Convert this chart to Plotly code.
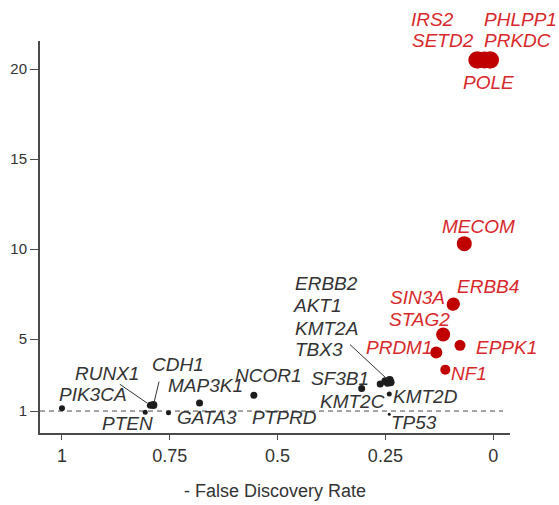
import plotly.graph_objects as go

# Genes above the significance cut-off (drawn in red)
sig_genes = ["IRS2", "SETD2", "PHLPP1", "PRKDC", "POLE", "MECOM", "ERBB4",
             "SIN3A", "STAG2", "EPPK1", "PRDM1", "NF1"]
sig_fdr = [0.038, 0.035, 0.008, 0.006, 0.020, 0.067, 0.092,
           0.094, 0.116, 0.077, 0.132, 0.111]
sig_score = [20.5, 20.5, 20.5, 20.5, 20.5, 10.3, 6.95,
             6.9, 5.25, 4.65, 4.25, 3.3]
sig_size = [17, 17, 17, 17, 17, 15, 13, 12, 14, 11, 12, 10]

# Remaining genes (drawn in black)
other_genes = ["PIK3CA", "PTEN", "RUNX1", "CDH1", "GATA3", "MAP3K1", "NCOR1",
               "PTPRD", "SF3B1", "KMT2C", "ERBB2", "AKT1", "KMT2A", "TBX3",
               "KMT2D", "TP53"]
other_fdr = [1.0, 0.807, 0.795, 0.788, 0.753, 0.681, 0.555,
             0.553, 0.305, 0.262, 0.250, 0.240, 0.245, 0.238,
             0.241, 0.241]
other_score = [1.15, 0.93, 1.32, 1.33, 0.90, 1.45, 1.88,
               1.86, 2.25, 2.50, 2.65, 2.72, 2.55, 2.60,
               1.95, 0.82]
other_size = [6, 5, 7, 8, 5, 7, 7, 4, 7, 7, 8, 8, 7, 8, 5, 3]

x_ticks = [1, 0.75, 0.5, 0.25, 0]
x_tick_text = ["1", "0.75", "0.5", "0.25", "0"]
y_ticks = [1, 5, 10, 15, 20]
threshold = 1

# Label offsets in pixels (right, up) relative to each point
sig_offsets = {
    "IRS2": (-44, 41), "SETD2": (-35, 20), "PHLPP1": (31, 41),
    "PRKDC": (27, 20), "POLE": (4, -22), "MECOM": (14, 17),
    "ERBB4": (34, 17), "SIN3A": (-35, 7), "STAG2": (-24, 15),
    "EPPK1": (47, -2), "PRDM1": (-37, 5), "NF1": (24, -4),
}
other_offsets = {
    "PIK3CA": (31, 14), "PTEN": (-18, -11), "RUNX1": (-43, 32),
    "CDH1": (25, 41), "GATA3": (38, -5), "MAP3K1": (6, 17),
    "NCOR1": (15, 20), "PTPRD": (30, -22), "SF3B1": (-22, 10),
    "KMT2C": (-28, -17), "ERBB2": (-59, 98), "AKT1": (-72, 75),
    "KMT2A": (-61, 55), "TBX3": (-72, 33), "KMT2D": (36, -3),
    "TP53": (25, -8),
}
# Leader lines: tail offset from the point, in screen pixels (right, down)
leaders = {"RUNX1": (-32, -22), "CDH1": (6, -25), "TBX3": (-42, -39)}

RED = "#C00000"
RED_TEXT = "#D8282C"
DARK = "#1c1c1c"
DARK_TEXT = "#333333"
FONT = "Liberation Sans, Arial, sans-serif"

fig = go.Figure()
fig.add_trace(go.Scatter(
    x=other_fdr, y=other_score, mode="markers", text=other_genes,
    marker=dict(size=other_size, color=DARK, opacity=1, line=dict(width=0)),
    hoverinfo="text", showlegend=False, cliponaxis=False))
fig.add_trace(go.Scatter(
    x=sig_fdr, y=sig_score, mode="markers", text=sig_genes,
    marker=dict(size=sig_size, color=RED, opacity=1, line=dict(width=0)),
    hoverinfo="text", showlegend=False, cliponaxis=False))

annotations = []
for genes, xs, ys, offs, col in [
        (sig_genes, sig_fdr, sig_score, sig_offsets, RED_TEXT),
        (other_genes, other_fdr, other_score, other_offsets, DARK_TEXT)]:
    for g, xv, yv in zip(genes, xs, ys):
        dx, dy = offs[g]
        annotations.append(dict(
            x=xv, y=yv, xref="x", yref="y", text=f"<i>{g}</i>",
            showarrow=False, xshift=dx, yshift=dy,
            font=dict(family=FONT, size=19, color=col)))

for g, (ax, ay) in leaders.items():
    i = other_genes.index(g)
    annotations.append(dict(
        x=other_fdr[i], y=other_score[i], xref="x", yref="y", text="",
        showarrow=True, arrowhead=0, arrowwidth=1, arrowcolor="#333333",
        ax=ax, ay=ay, standoff=4))

fig.update_layout(
    width=559, height=505,
    margin=dict(l=40, r=49, t=41, b=72, autoexpand=False),
    paper_bgcolor="white", plot_bgcolor="white",
    font=dict(family=FONT, color="#333333"),
    annotations=annotations,
    shapes=[dict(type="line", xref="paper", yref="y", x0=0, x1=0.985,
                 y0=threshold, y1=threshold,
                 line=dict(color="#4a4a4a", width=1, dash="5px,4px"),
                 layer="below")],
    xaxis=dict(
        range=[1.051, -0.039], tickvals=x_ticks, ticktext=x_tick_text,
        showgrid=False, zeroline=False, showline=True, linecolor="#4a4a4a",
        linewidth=2, ticks="outside", ticklen=5, tickcolor="#4a4a4a",
        tickwidth=1, tickfont=dict(size=18, color="#333333"),
        automargin=False,
        title=dict(text="- False Discovery Rate",
                   font=dict(size=18, color="#333333"), standoff=20)),
    yaxis=dict(
        range=[-0.22, 21.56], tickvals=y_ticks, automargin=False,
        showgrid=False, zeroline=False, showline=True, linecolor="#4a4a4a",
        linewidth=2, ticks="outside", ticklen=8, tickcolor="#4a4a4a",
        tickwidth=1, tickfont=dict(size=15, color="#333333")),
)

fig.write_html("out.html")
